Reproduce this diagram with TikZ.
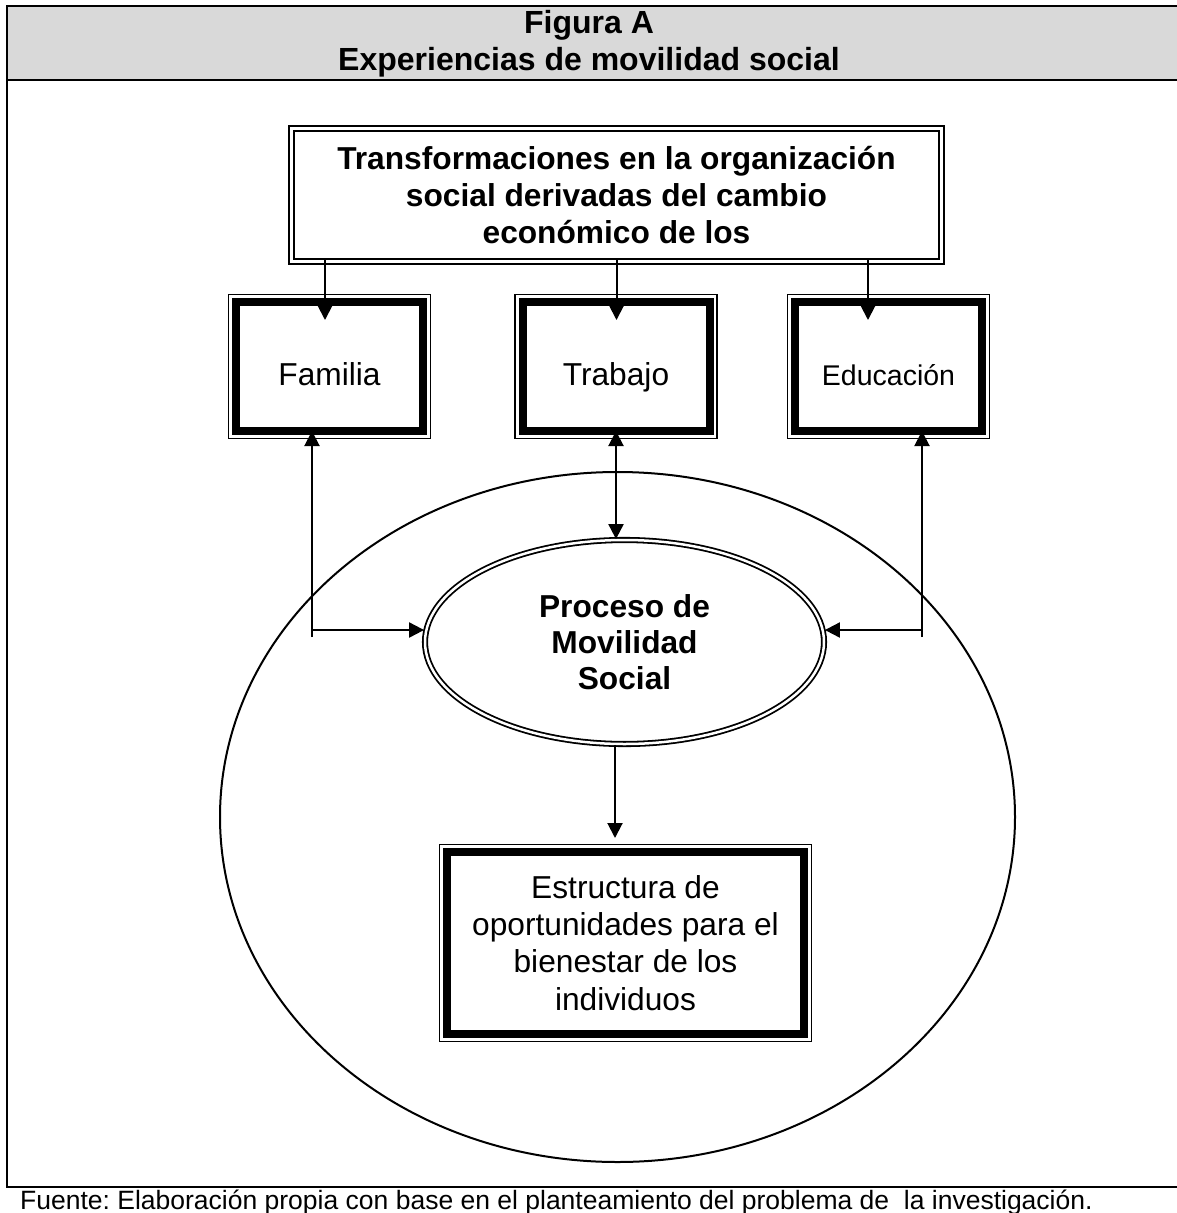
\documentclass[tikz,border=0pt]{standalone}
\usepackage{fontspec}
\setmainfont{Liberation Sans}
\usetikzlibrary{shapes.geometric,arrows.meta}
\definecolor{hdrgray}{HTML}{D9D9D9}
\frenchspacing

\begin{document}
\begin{tikzpicture}[x=1pt,y=-1pt,
  arr/.style={-{Triangle[length=15pt,width=15pt]},line width=2pt},
  darr/.style={{Triangle[length=15pt,width=15pt]}-{Triangle[length=15pt,width=15pt]},line width=2pt},
  thickbox/.style={draw,line width=8pt,outer sep=0pt,inner sep=0pt,align=center,font=\fontsize{31.7}{37.3}\selectfont},
  smallbox/.style={thickbox,minimum width=187pt,minimum height=129pt,text height=38pt,text depth=0pt},
  dblbox/.style={draw,double,double distance=3pt,line width=2pt,inner sep=0pt,minimum width=650pt,minimum height=133pt,align=center,font=\bfseries\fontsize{31.7}{37.3}\selectfont},
  procell/.style={ellipse,draw,double,double distance=2.5pt,line width=1.8pt,inner sep=0pt,minimum width=399pt,minimum height=204pt,align=center,font=\bfseries\fontsize{31.7}{36}\selectfont}]
\useasboundingbox (0,0) rectangle (1176,1213);
\pgfmathsetmacro{\xl}{7}
\pgfmathsetmacro{\xr}{1178}
\fill[hdrgray] (\xl,6) rectangle (\xr,80);
\draw[line width=2pt] (\xl,6) rectangle (\xr,1187);
\draw[line width=2pt] (\xl,80) -- (\xr,80);
\node[font=\bfseries\fontsize{32}{37}\selectfont,align=center] (hdr) at (589,43.4) {Figura A\\Experiencias de movilidad social};
\draw[line width=2pt] (617.5,817) ellipse [x radius=397.5pt, y radius=345pt];
\node[dblbox] (trans) at (616.5,195) {Transformaciones en la organización\\social derivadas del cambio\\económico de los};
\node[smallbox] (fam) at (329.5,366.5) {Familia};
\node[smallbox] (trab) at (616,366.5) {Trabajo};
\node[smallbox,font=\fontsize{28.5}{34}\selectfont] (edu) at (888.5,366.5) {Educación};
\node[procell] (proc) at (624.5,642) {Proceso de\\Movilidad\\Social};
\node[thickbox,minimum width=357pt,minimum height=182pt] (est) at (625.5,943) {Estructura de\\oportunidades para el\\bienestar de los\\individuos};
\foreach \n in {fam,trab,edu,est}
  \draw[line width=1.5pt] ([shift={(-7.5,-7.5)}]\n.north west) rectangle ([shift={(7.5,7.5)}]\n.south east);
\coordinate (fin) at (325,320);
\coordinate (tin) at (616.5,320);
\coordinate (ein) at (868,320);
\foreach \c in {fin,tin,ein}
  \draw[arr] (\c |- trans.south) ++(0,-4) -- (\c);
\coordinate (lft) at (312,637);
\coordinate (lknee) at (312,630);
\coordinate (rft) at (922,637);
\coordinate (rknee) at (922,630);
\draw[arr] (lft) -- (lft |- fam.south);
\draw[arr] (lknee) -- (lknee -| proc.west);
\draw[arr] (rft) -- (rft |- edu.south);
\draw[arr] (rknee) -- (rknee -| proc.east);
\draw[darr] (trab.south) -- (trab.south |- proc.north);
\coordinate (estin) at (615,838);
\draw[arr] (estin |- proc.south) -- (estin);
\node[anchor=base west,inner sep=0pt,font=\fontsize{26.5}{32}\selectfont] (src) at (20,1209.5) {Fuente: Elaboración propia con base en el planteamiento del problema de\ \ la investigación.};
\end{tikzpicture}
\end{document}
